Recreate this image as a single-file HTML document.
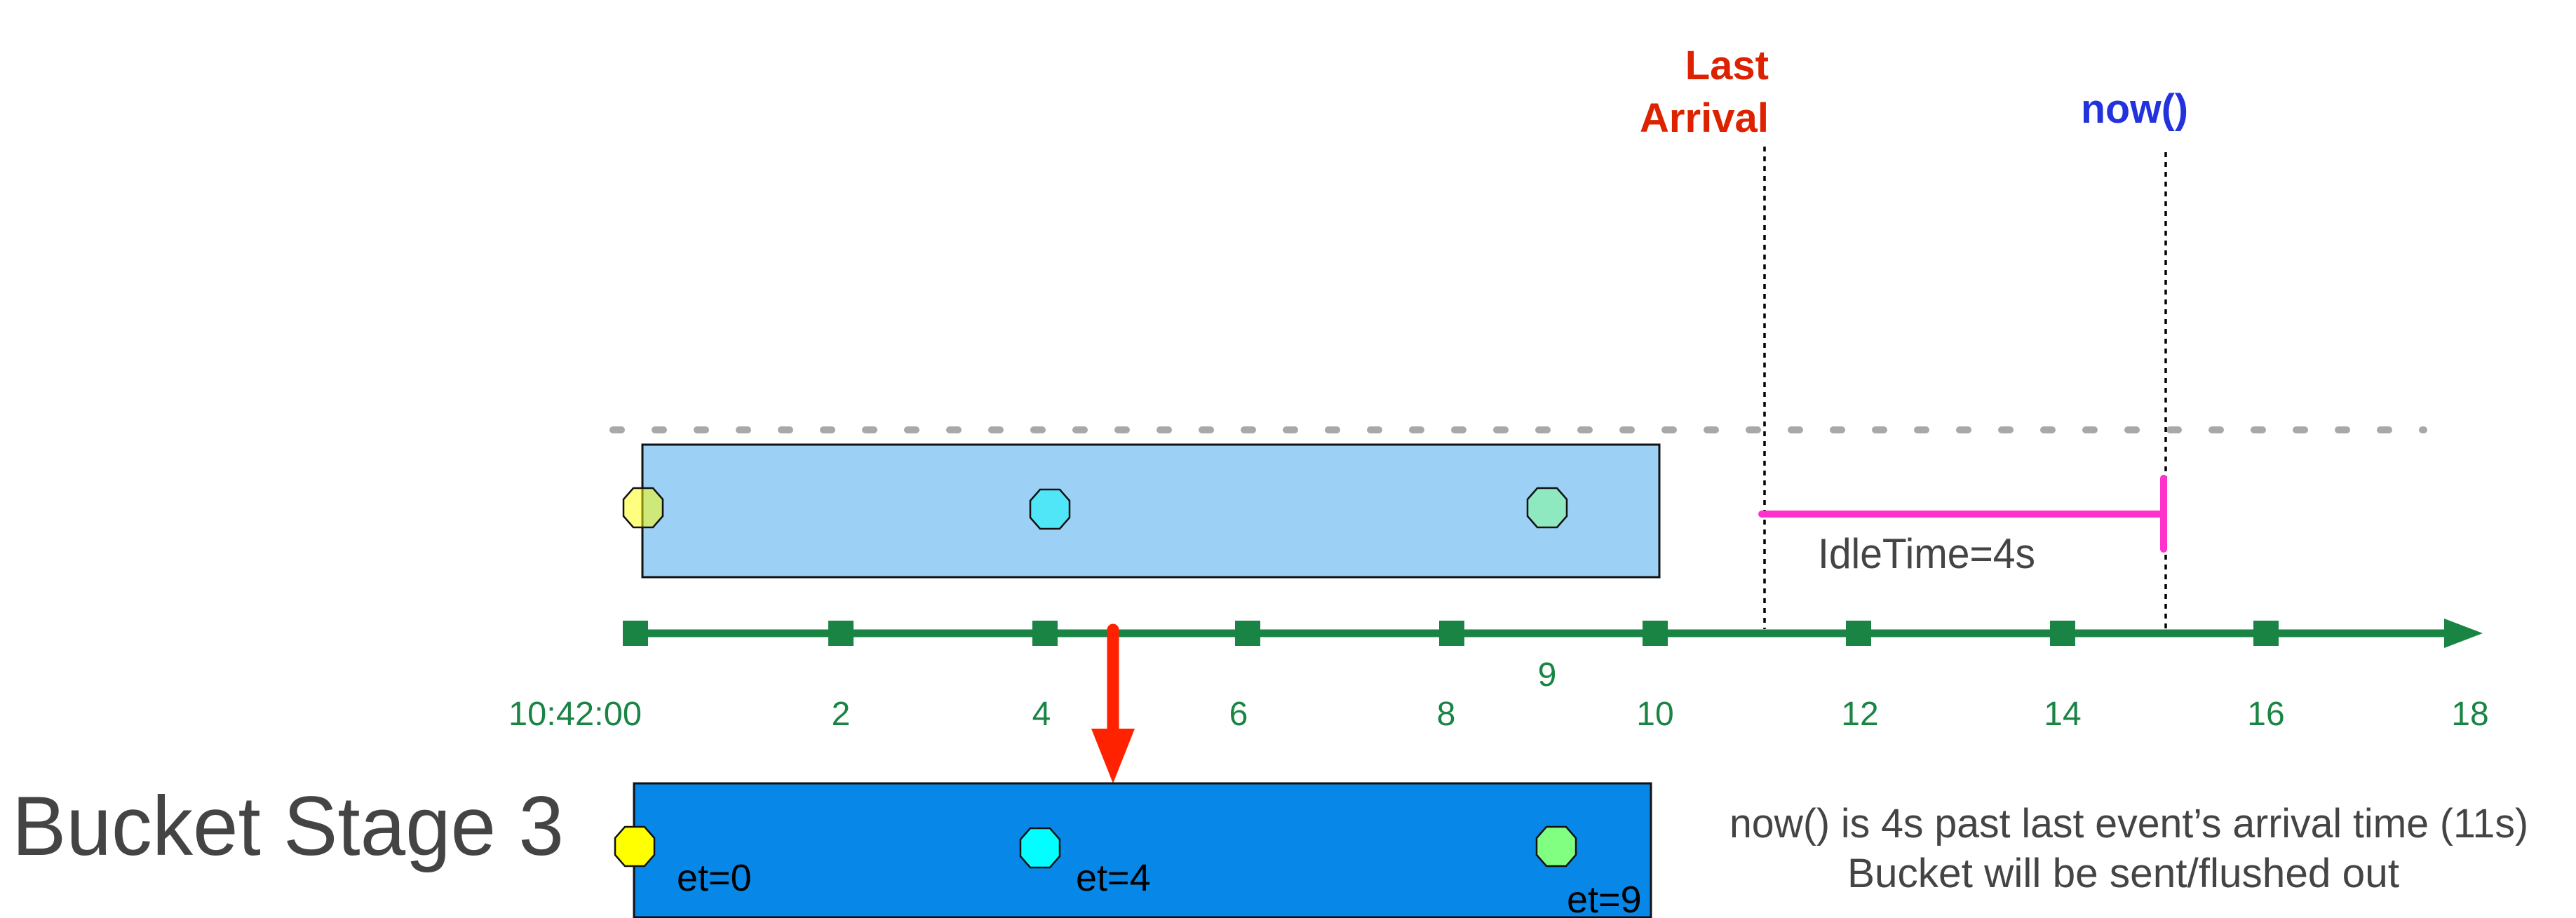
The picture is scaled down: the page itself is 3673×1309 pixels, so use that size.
<!DOCTYPE html>
<html><head><meta charset="utf-8"><style>html,body{margin:0;padding:0;background:#fff}svg{display:block}</style></head>
<body>
<svg width="3673" height="1309" viewBox="0 0 3673 1309" xmlns="http://www.w3.org/2000/svg" font-family="'Liberation Sans', sans-serif">
<defs>
<polygon id="oct" points="-14,-28 14,-28 28,-12 28,12 14,28 -14,28 -28,12 -28,-12" stroke="#111" stroke-width="2.5"/>
</defs>
<!-- gray dashed line -->
<line x1="874" y1="613" x2="3456" y2="613" stroke="#a8a8a8" stroke-width="10" stroke-linecap="round" stroke-dasharray="12 48"/>
<!-- light box -->
<rect x="916" y="634" width="1450" height="189" fill="#9dd0f5" stroke="#111" stroke-width="3"/>
<g transform="translate(917,724)"><use href="#oct" fill="#ffff00" fill-opacity="0.5"/></g>
<g transform="translate(1497,726)"><use href="#oct" fill="#50e6f8"/></g>
<g transform="translate(2206,724)"><use href="#oct" fill="#8ee8c0"/></g>
<!-- dotted verticals -->
<line x1="2516" y1="209" x2="2516" y2="897" stroke="#000" stroke-width="3.5" stroke-dasharray="7 7"/>
<line x1="3088" y1="217" x2="3088" y2="897" stroke="#000" stroke-width="3.5" stroke-dasharray="7 7"/>
<!-- labels top -->
<text x="2522" y="113" font-size="58" font-weight="bold" fill="#dd2200" text-anchor="end">Last</text>
<text x="2522" y="188" font-size="58" font-weight="bold" fill="#dd2200" text-anchor="end" textLength="184" lengthAdjust="spacingAndGlyphs">Arrival</text>
<text x="2967" y="175" font-size="58" font-weight="bold" fill="#2233dd" textLength="153" lengthAdjust="spacingAndGlyphs">now()</text>
<!-- magenta -->
<line x1="2512" y1="733" x2="3085" y2="733" stroke="#ff33cc" stroke-width="10" stroke-linecap="round"/>
<line x1="3085" y1="682" x2="3085" y2="783" stroke="#ff33cc" stroke-width="10" stroke-linecap="round"/>
<text x="2592" y="810" font-size="60" fill="#444" textLength="310" lengthAdjust="spacingAndGlyphs">IdleTime=4s</text>
<!-- axis -->
<line x1="906" y1="903" x2="3490" y2="903" stroke="#198443" stroke-width="11"/>
<polygon points="3485,882 3540,903 3485,924" fill="#198443"/>
<g fill="#198443">
<rect x="888" y="885" width="36" height="36"/><rect x="1181" y="885" width="36" height="36"/>
<rect x="1472" y="885" width="36" height="36"/><rect x="1761" y="885" width="36" height="36"/>
<rect x="2052" y="885" width="36" height="36"/><rect x="2342" y="885" width="36" height="36"/>
<rect x="2632" y="885" width="36" height="36"/><rect x="2923" y="885" width="36" height="36"/>
<rect x="3213" y="885" width="36" height="36"/>
</g>
<g fill="#198443" font-size="48" text-anchor="middle">
<text x="820" y="1034" textLength="190" lengthAdjust="spacingAndGlyphs">10:42:00</text>
<text x="1199" y="1034">2</text><text x="1485" y="1034">4</text><text x="1766" y="1034">6</text>
<text x="2062" y="1034">8</text><text x="2360" y="1034">10</text><text x="2652" y="1034">12</text>
<text x="2941" y="1034">14</text><text x="3231" y="1034">16</text><text x="3522" y="1034">18</text>
<text x="2206" y="978">9</text>
</g>
<!-- red arrow -->
<line x1="1587" y1="898" x2="1587" y2="1045" stroke="#ff2200" stroke-width="17" stroke-linecap="round"/>
<polygon points="1556,1039 1618,1039 1587,1117" fill="#ff2200"/>
<!-- dark box -->
<rect x="904" y="1117" width="1450" height="191" fill="#0788e8" stroke="#111" stroke-width="3"/>
<g transform="translate(905,1207)"><use href="#oct" fill="#ffff00"/></g>
<g transform="translate(1483,1209)"><use href="#oct" fill="#00ffff"/></g>
<g transform="translate(2219,1207)"><use href="#oct" fill="#80ff80"/></g>
<g font-size="54" fill="#000">
<text x="965" y="1270">et=0</text>
<text x="1534" y="1270">et=4</text>
<text x="2234" y="1301">et=9</text>
</g>
<text x="17" y="1219" font-size="120" fill="#444" textLength="787" lengthAdjust="spacingAndGlyphs">Bucket Stage 3</text>
<text x="2466" y="1194" font-size="58" fill="#444" textLength="1139" lengthAdjust="spacingAndGlyphs">now() is 4s past last event’s arrival time (11s)</text>
<text x="2634" y="1265" font-size="58" fill="#444" textLength="787" lengthAdjust="spacingAndGlyphs">Bucket will be sent/flushed out</text>
</svg>
</body></html>
